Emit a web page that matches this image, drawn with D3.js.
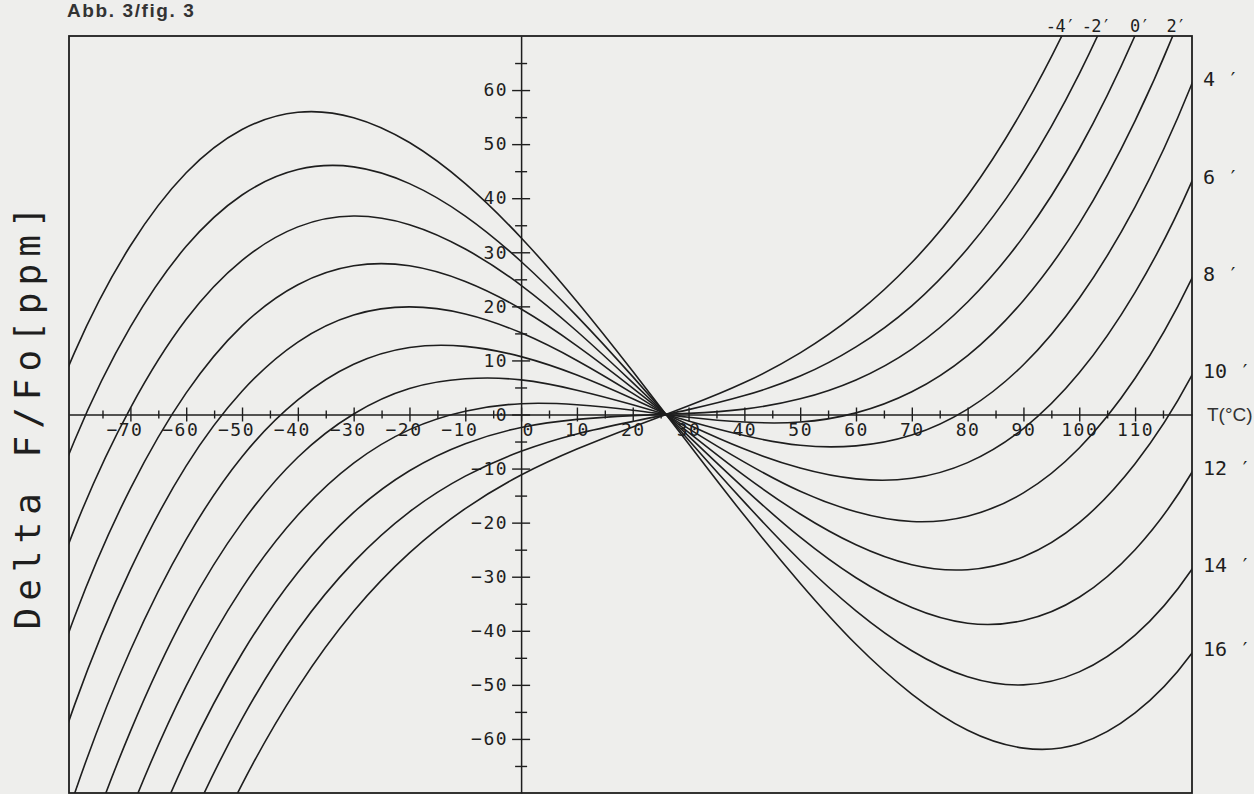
<!DOCTYPE html>
<html>
<head>
<meta charset="utf-8">
<script src="https://cdn.jsdelivr.net/npm/d3@7"></script>
<style>
  body { margin: 0; background: #eeeeec; }
  svg { display: block; }
</style>
</head>
<body>
<div id="app"></div>
<script>
const temps = [-90, -80, -70, -60, -50, -40, -30, -20, -10, 0, 10, 20, 30, 40, 50, 60, 70, 80, 90, 100, 110, 120, 130];

// Delta F/Fo [ppm] per cut angle (arc minutes)
const ppm16 = [-14.8, 11.5, 31.2, 44.7, 52.7, 55.9, 54.9, 50.3, 42.7, 32.7, 20.9, 8.0, -5.4, -18.7, -31.2, -42.5, -51.7, -58.4, -61.7, -60.9, -55.2, -44.4, -27.8];
const ppm14 = [-32.4, -4.8, 16.2, 31.1, 40.6, 45.3, 45.8, 42.7, 36.7, 28.3, 18.2, 7.0, -4.7, -16.2, -27.0, -36.3, -43.7, -48.5, -50.0, -47.6, -40.8, -28.9, -11.2];
const ppm12 = [-50.1, -21.1, 1.2, 17.6, 28.5, 34.7, 36.7, 35.1, 30.6, 23.9, 15.4, 5.9, -4.0, -13.7, -22.7, -30.2, -35.7, -38.6, -38.1, -33.8, -25.0, -11.0, 8.8];
const ppm10 = [-67.7, -37.4, -13.7, 4.0, 16.4, 24.0, 27.5, 27.5, 24.6, 19.5, 12.7, 4.9, -3.3, -11.3, -18.4, -24.1, -27.8, -28.7, -26.3, -20.0, -9.1, 6.9, 28.8];
const ppm8 = [-85.4, -53.7, -28.7, -9.5, 4.3, 13.4, 18.4, 19.9, 18.6, 15.1, 10.0, 3.9, -2.6, -8.8, -14.2, -18.0, -19.8, -18.8, -14.5, -6.2, 6.7, 24.8, 48.8];
const ppm6 = [-103.0, -70.1, -43.6, -23.1, -7.8, 2.7, 9.3, 12.4, 12.6, 10.7, 7.3, 2.9, -1.9, -6.4, -9.9, -11.9, -11.8, -8.9, -2.6, 7.7, 22.6, 42.7, 68.8];
const ppm4 = [-120.7, -86.4, -58.6, -36.6, -20.0, -7.9, 0.1, 4.8, 6.6, 6.4, 4.5, 1.8, -1.2, -3.9, -5.7, -5.8, -3.8, 1.0, 9.2, 21.5, 38.4, 60.7, 88.8];
const ppm2 = [-138.3, -102.7, -73.5, -50.2, -32.1, -18.6, -9.0, -2.8, 0.6, 2.0, 1.8, 0.8, -0.5, -1.4, -1.4, 0.3, 4.2, 10.9, 21.1, 35.3, 54.3, 78.6, 108.8];
const ppm0 = [-156.0, -119.0, -88.5, -63.7, -44.2, -29.2, -18.1, -10.4, -5.4, -2.4, -0.9, -0.2, 0.2, 1.0, 2.9, 6.4, 12.1, 20.8, 32.9, 49.1, 70.1, 96.5, 128.8];
const ppmM2 = [-173.6, -135.3, -103.4, -77.3, -56.3, -39.8, -27.3, -18.0, -11.4, -6.8, -3.6, -1.3, 0.9, 3.5, 7.1, 12.5, 20.1, 30.7, 44.7, 63.0, 86.0, 114.4, 148.8];
const ppmM4 = [-191.3, -151.6, -118.4, -90.9, -68.4, -50.5, -36.4, -25.6, -17.4, -11.2, -6.4, -2.3, 1.6, 5.9, 11.4, 18.6, 28.1, 40.5, 56.6, 76.8, 101.8, 132.3, 168.8];

const angles = [16, 14, 12, 10, 8, 6, 4, 2, 0, -2, -4];
const angleData = [ppm16, ppm14, ppm12, ppm10, ppm8, ppm6, ppm4, ppm2, ppm0, ppmM2, ppmM4];
const topLabelAngles = [-4, -2, 0, 2];     // curves leaving through the top
const rightLabelAngles = [4, 6, 8, 10, 12, 14, 16];

// axis ticks
const xTicks = [-70, -60, -50, -40, -30, -20, -10, 0, 10, 20, 30, 40, 50, 60, 70, 80, 90, 100, 110];
const xMinor = [-75, -65, -55, -45, -35, -25, -15, -5, 5, 15, 25, 35, 45, 55, 65, 75, 85, 95, 105, 115];
const yTicks = [-60, -50, -40, -30, -20, -10, 0, 10, 20, 30, 40, 50, 60];
const yMinor = [-65, -55, -45, -35, -25, -15, -5, 5, 15, 25, 35, 45, 55, 65];

let margin = { top: 36, right: 62, bottom: 1, left: 69 };
let width = 1254 - margin.left - margin.right;
let height = 794 - margin.top - margin.bottom;

let ink = '#1e1e1e';
let plotFont = "'DejaVu Sans Mono', monospace";

let x = d3.scaleLinear().domain([-81, 120.2]).range([0, width]);
let y = d3.scaleLinear().domain([-70, 70]).range([height, 0]);

let svg = d3.select('#app').append('svg')
    .attr('width', 1254)
    .attr('height', 794)
    .style('background', '#eeeeec');

svg.append('text')
   .attr('x', 67)
   .attr('y', 17)
   .style('font-family', "'Liberation Sans', Arial, sans-serif")
   .style('font-size', '19px')
   .style('font-weight', 'bold')
   .style('letter-spacing', '1.6px')
   .attr('fill', '#333')
   .text('Abb. 3/fig. 3');

let chart = svg.append('g')
    .attr('transform', `translate(${margin.left}, ${margin.top})`);

chart.append('clipPath').attr('id', 'plot')
     .append('rect').attr('width', width).attr('height', height);

let series = angles.map((a, i) => ({ angle: a, values: angleData[i] }));

let line = d3.line()
    .x(d => x(d[0]))
    .y(d => y(d[1]))
    .curve(d3.curveNatural);

chart.append('g')
     .attr('clip-path', 'url(#plot)')
   .selectAll('path')
     .data(series)
     .join('path')
       .attr('d', s => line(temps.map((t, i) => [t, s.values[i]])))
       .attr('fill', 'none')
       .attr('stroke', ink)
       .attr('stroke-width', 1.6);

// frame
chart.append('rect')
     .attr('width', width)
     .attr('height', height)
     .attr('fill', 'none')
     .attr('stroke', ink)
     .attr('stroke-width', 1.8);

function styleAxis(g) {
  g.select('.domain').attr('stroke', ink).attr('stroke-width', 1.5);
  g.selectAll('.tick line').attr('stroke', ink).attr('stroke-width', 1.4);
  g.selectAll('.tick text')
   .attr('fill', ink)
   .style('font-family', plotFont)
   .style('font-size', '18px')
   .style('letter-spacing', '1.5px');
}

// H axis (through 0 ppm)
let xAxis = d3.axisBottom(x).tickValues(xTicks).tickSize(7).tickSizeOuter(0).tickPadding(2);
let xGuide = chart.append('g')
    .attr('transform', `translate(0, ${y(0)})`)
    .call(xAxis)
    .call(styleAxis);
xGuide.selectAll('.tick line').attr('y1', -7);
xGuide.selectAll('.tick text').attr('dx', d => d < 0 ? -6 : (d === 0 ? 7 : 0));

let xMinorAxis = d3.axisBottom(x).tickValues(xMinor).tickSize(4).tickFormat('');
chart.append('g')
     .attr('transform', `translate(0, ${y(0)})`)
     .call(xMinorAxis)
     .call(g => g.select('.domain').remove())
     .call(styleAxis)
     .selectAll('.tick line').attr('y1', -4);

// V axis (through 0 °C)
let yAxis = d3.axisLeft(y).tickValues(yTicks).tickSize(9).tickSizeOuter(0).tickPadding(4);
let yGuide = chart.append('g')
    .attr('transform', `translate(${x(0)}, 0)`)
    .call(yAxis)
    .call(styleAxis);
yGuide.selectAll('.tick line').attr('x1', 9);

let yMinorAxis = d3.axisLeft(y).tickValues(yMinor).tickSize(6).tickFormat('');
chart.append('g')
     .attr('transform', `translate(${x(0)}, 0)`)
     .call(yMinorAxis)
     .call(g => g.select('.domain').remove())
     .call(styleAxis)
     .selectAll('.tick line').attr('x1', 6);

// curve labels
let xEnd = x.domain()[1];
rightLabelAngles.forEach(a => {
  let vals = angleData[angles.indexOf(a)];
  let v = d3.scaleLinear().domain(temps).range(vals)(xEnd);
  chart.append('text')
       .attr('x', width + 11)
       .attr('y', y(v) - 4)
       .attr('dy', '0.35em')
       .attr('fill', ink)
       .style('font-family', plotFont)
       .style('font-size', '20px')
       .style('white-space', 'pre')
       .text(a + ' \u2032');
});

let yTop = y.domain()[1];
topLabelAngles.forEach(a => {
  let vals = angleData[angles.indexOf(a)];
  let tCross = null;
  for (let i = 1; i < temps.length && tCross === null; i++) {
    if (temps[i] > 26 && vals[i - 1] < yTop && vals[i] >= yTop) {
      tCross = temps[i - 1] + (yTop - vals[i - 1]) / (vals[i] - vals[i - 1]) * (temps[i] - temps[i - 1]);
    }
  }
  chart.append('text')
       .attr('x', x(tCross))
       .attr('y', -4)
       .attr('dx', a < 0 ? 0 : 5)
       .attr('text-anchor', 'middle')
       .attr('fill', ink)
       .style('font-family', plotFont)
       .style('font-size', '17px')
       .style('letter-spacing', '-0.5px')
       .text(a + '\u2032');
});

// axis titles
chart.append('text')
     .attr('x', width + 15)
     .attr('y', y(0))
     .attr('dy', '0.35em')
     .attr('fill', '#333')
     .style('font-family', "'Liberation Sans', Arial, sans-serif")
     .style('font-size', '19px')
     .text('T(°C)');

svg.append('text')
   .attr('transform', `translate(40, ${margin.top + y(0)}) rotate(-90)`)
   .attr('text-anchor', 'middle')
   .attr('fill', ink)
   .style('font-family', plotFont)
   .style('font-size', '36px')
   .style('letter-spacing', '7px')
   .text('Delta F/Fo[ppm]');
</script>
</body>
</html>
